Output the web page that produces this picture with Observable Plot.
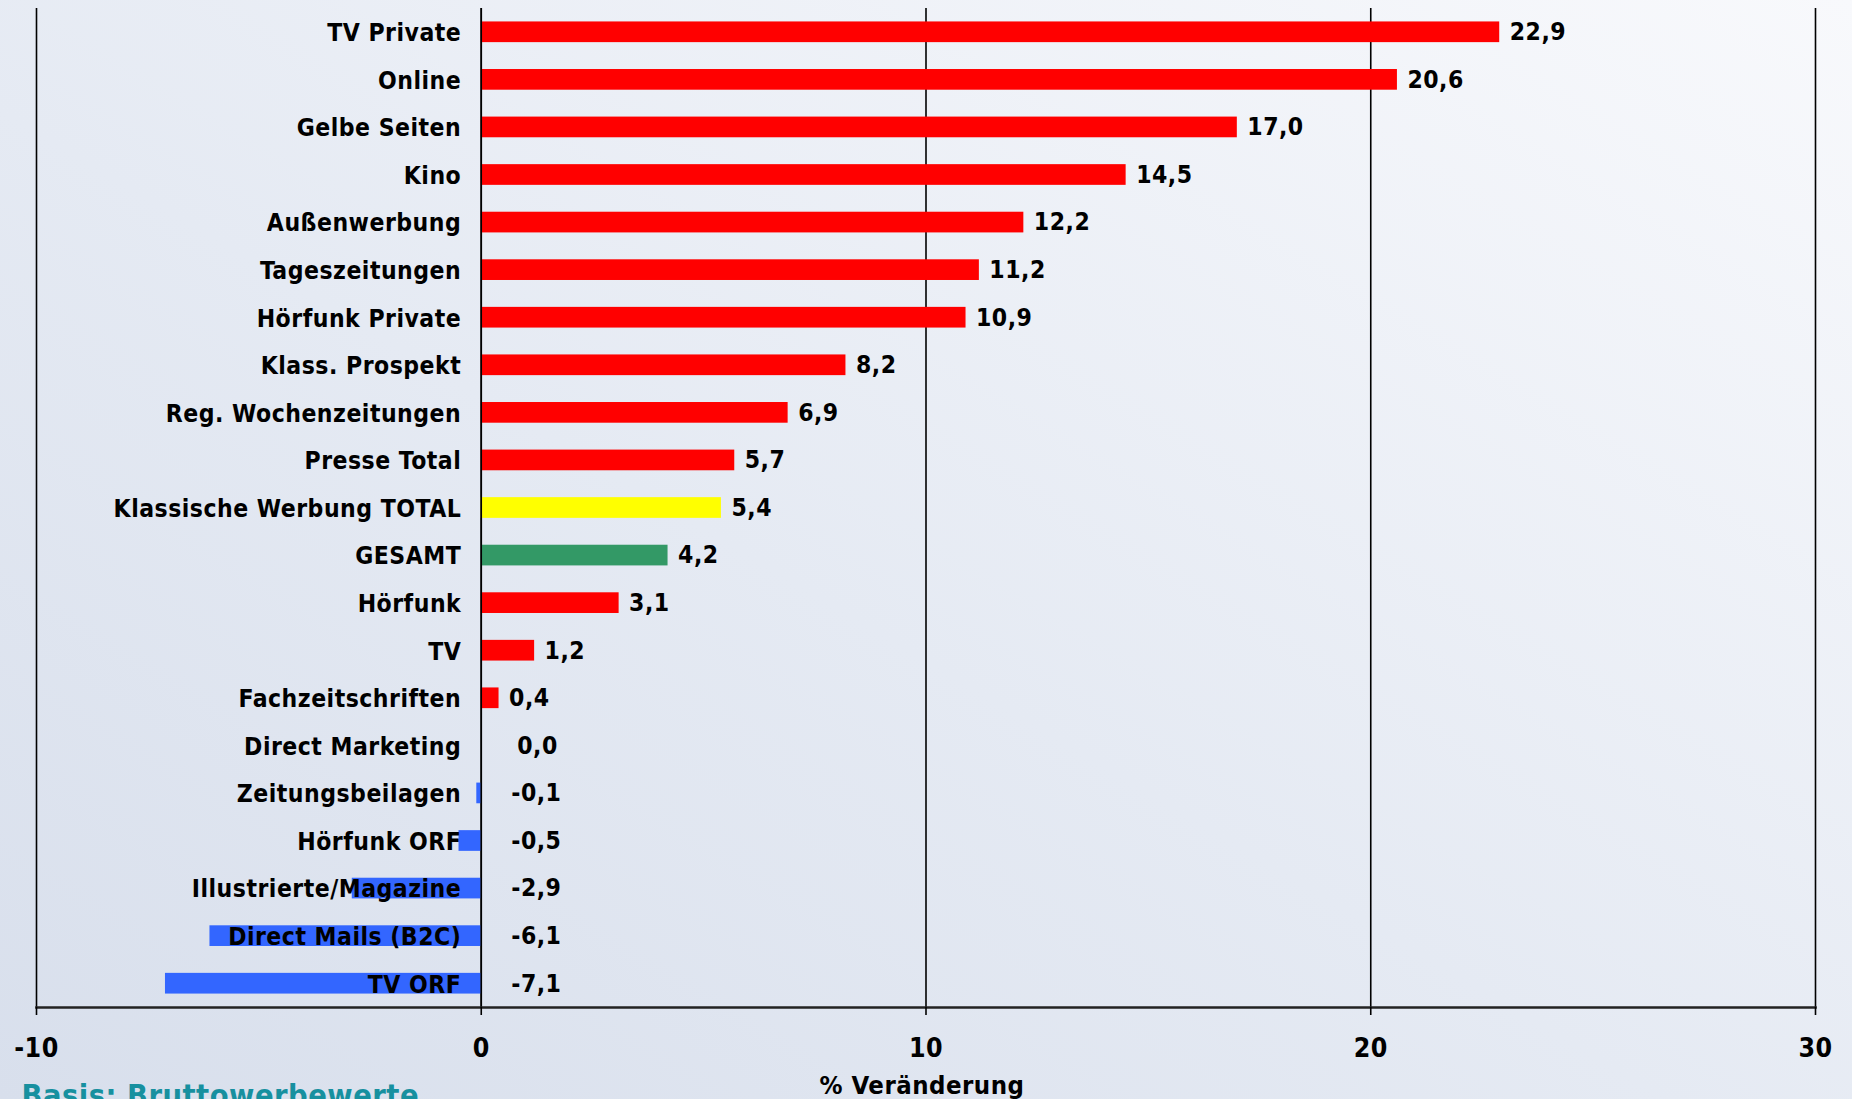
<!DOCTYPE html>
<html>
<head>
<meta charset="utf-8">
<script src="https://cdn.jsdelivr.net/npm/d3@7"></script>
<script src="https://cdn.jsdelivr.net/npm/@observablehq/plot@0.6"></script>
<style>
  html, body { margin: 0; padding: 0; width: 1852px; height: 1099px; overflow: hidden; }
  body { background: linear-gradient(to top right, #d8dfec 0%, #e5eaf3 45%, #f8f9fc 100%); }
  #chart svg { display: block; }
</style>
</head>
<body>
<div id="chart"></div>
<script>
const categories = [
  "TV Private", "Online", "Gelbe Seiten", "Kino", "Außenwerbung", "Tageszeitungen",
  "Hörfunk Private", "Klass. Prospekt", "Reg. Wochenzeitungen", "Presse Total",
  "Klassische Werbung TOTAL", "GESAMT", "Hörfunk", "TV", "Fachzeitschriften",
  "Direct Marketing", "Zeitungsbeilagen", "Hörfunk ORF", "Illustrierte/Magazine",
  "Direct Mails (B2C)", "TV ORF"
];
const values = [
  22.9, 20.6, 17.0, 14.5, 12.2, 11.2,
  10.9, 8.2, 6.9, 5.7,
  5.4, 4.2, 3.1, 1.2, 0.4,
  0.0, -0.1, -0.5, -2.9,
  -6.1, -7.1
];
const xTicks = [-10, 0, 10, 20, 30];
const xLabel = "% Veränderung";
const caption = "Basis: Bruttowerbewerte";

const data = categories.map((cat, i) => ({cat, value: values[i]}));
const positive = data.filter(d => d.value > 0);
const zero = data.filter(d => d.value === 0);
const negative = data.filter(d => d.value < 0);

const fmt = v => d3.format(".1f")(v).replace(".", ",").replace("−", "-");
const barColor = d =>
  d.cat === "GESAMT" ? "#339966" :
  d.cat === "Klassische Werbung TOTAL" ? "#FFFF00" :
  d.value < 0 ? "#3366FF" : "#FF0000";

const font = "'DejaVu Sans Condensed', 'DejaVu Sans', sans-serif";
const labelStyle = {fill: "#000", fontSize: 24.5};

const chart = Plot.plot({
  width: 1852,
  height: 1099,
  marginLeft: 36,
  marginRight: 37,
  marginTop: 8,
  marginBottom: 92,
  style: {
    background: "transparent",
    fontFamily: font,
    fontStretch: "condensed",
    fontWeight: "bold",
    fontSize: "24.5px",
    letterSpacing: "0.5px",
    color: "#000"
  },
  x: {domain: [-10, 30]},
  y: {domain: categories, paddingInner: 0.565, paddingOuter: 0.2825, round: false, axis: null},
  marks: [
    Plot.ruleX(xTicks, {stroke: "#000", strokeWidth: 1.6}),
    Plot.barX(data, {x: "value", y: "cat", fill: barColor}),
    Plot.ruleX([0], {stroke: "#000", strokeWidth: 1.6}),
    Plot.frame({anchor: "bottom", stroke: "#222", strokeWidth: 2.6}),
    Plot.axisX(xTicks, {
      tickSize: 8, tickPadding: 23, label: null, fontSize: 26.5,
      tickFormat: d => String(d), stroke: "#000", strokeWidth: 1.6
    }),
    Plot.text(data, {
      x: 0, y: "cat", text: "cat", textAnchor: "end", dx: -20, dy: 1, ...labelStyle
    }),
    Plot.text(positive, {
      x: "value", y: "cat", text: d => fmt(d.value), textAnchor: "start", dx: 10, ...labelStyle
    }),
    Plot.text(zero, {
      x: 0, y: "cat", text: d => fmt(d.value), textAnchor: "start", dx: 36, ...labelStyle
    }),
    Plot.text(negative, {
      x: 0, y: "cat", text: d => fmt(d.value), textAnchor: "start", dx: 30, ...labelStyle
    }),
    Plot.text([xLabel], {
      frameAnchor: "bottom", dy: 78, dx: -4, lineAnchor: "middle",
      fill: "#000", fontSize: 25.5
    }),
    Plot.text([caption], {
      frameAnchor: "bottom-left", dx: -15, dy: 77, lineAnchor: "top", textAnchor: "start",
      fill: "#17909f", fontSize: 30.5
    })
  ]
});
document.getElementById("chart").appendChild(chart);
</script>
</body>
</html>
